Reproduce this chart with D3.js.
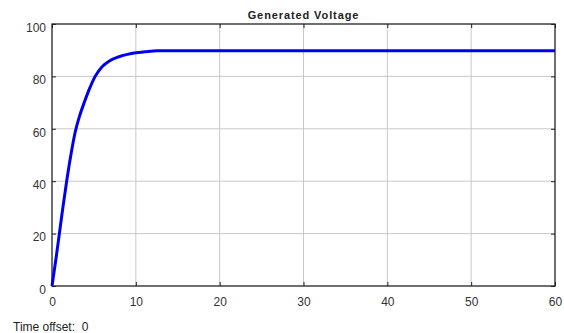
<!DOCTYPE html>
<html>
<head>
<meta charset="utf-8">
<script src="https://cdn.jsdelivr.net/npm/d3@7"></script>
<style>
  body { margin: 0; background: #fff; }
  text { font-family: "Liberation Sans", Arial, sans-serif; }
</style>
</head>
<body>
<svg id="chart" width="564" height="333"></svg>
<script>
const timeValues = [0, 0.5, 0.9, 1.3, 1.75, 2.25, 2.75, 3.3, 3.9, 4.5, 5.15, 6, 6.8, 7.9, 9, 10, 11.1, 12.5, 60];
const voltageValues = [0, 11, 20.5, 30, 40, 50, 58.5, 65, 70.5, 75.5, 80, 83.8, 85.8, 87.4, 88.4, 89, 89.4, 89.8, 89.8];
const xTicks = [0, 10, 20, 30, 40, 50, 60];
const yTicks = [0, 20, 40, 60, 80, 100];
const title = 'Generated Voltage';
const footer = 'Time offset:  0';

const svg = d3.select('#chart');
const margin = { top: 24, right: 9, bottom: 47, left: 52 };
const width = 564, height = 333;

const x = d3.scaleLinear().domain([0, 60]).range([margin.left, width - margin.right]);
const y = d3.scaleLinear().domain([0, 100]).range([height - margin.bottom, margin.top]);

const data = timeValues.map((t, i) => ({ t, v: voltageValues[i] }));

// grid
svg.append('g')
  .selectAll('line')
  .data(xTicks.slice(1, -1))
  .join('line')
  .attr('x1', d => x(d)).attr('x2', d => x(d))
  .attr('y1', y(100)).attr('y2', y(0))
  .attr('stroke', '#c8c8c8').attr('stroke-width', 1);

svg.append('g')
  .selectAll('line')
  .data(yTicks.slice(1, -1))
  .join('line')
  .attr('x1', x(0)).attr('x2', x(60))
  .attr('y1', d => y(d)).attr('y2', d => y(d))
  .attr('stroke', '#c8c8c8').attr('stroke-width', 1);

// axes, ticks pointing inward on all sides
const styleAxis = g => {
  g.select('.domain').remove();
  g.selectAll('line').attr('stroke', '#222');
  g.selectAll('text').style('font-size', '12px').attr('fill', '#333');
};

svg.append('g')
  .attr('transform', `translate(0,${y(0)})`)
  .call(d3.axisBottom(x).tickValues(xTicks).tickSizeInner(-4).tickSizeOuter(0).tickPadding(11))
  .call(styleAxis);

svg.append('g')
  .attr('transform', `translate(${x(0)},0)`)
  .call(d3.axisLeft(y).tickValues(yTicks).tickSizeInner(-4).tickSizeOuter(0).tickPadding(6))
  .call(styleAxis)
  .selectAll('text').attr('dy', '0.6em');

svg.append('g')
  .attr('transform', `translate(0,${y(100)})`)
  .call(d3.axisTop(x).tickValues(xTicks).tickSizeInner(-4).tickSizeOuter(0).tickFormat(''))
  .call(styleAxis);

svg.append('g')
  .attr('transform', `translate(${x(60)},0)`)
  .call(d3.axisRight(y).tickValues(yTicks).tickSizeInner(-4).tickSizeOuter(0).tickFormat(''))
  .call(styleAxis);

// frame
svg.append('rect')
  .attr('x', x(0)).attr('y', y(100))
  .attr('width', x(60) - x(0)).attr('height', y(0) - y(100))
  .attr('fill', 'none').attr('stroke', '#222').attr('stroke-width', 1.3);

// curve
svg.append('path')
  .datum(data)
  .attr('fill', 'none')
  .attr('stroke', '#0000f0')
  .attr('stroke-width', 3)
  .attr('stroke-linejoin', 'round')
  .attr('d', d3.line().x(d => x(d.t)).y(d => y(d.v)).curve(d3.curveMonotoneX));

svg.append('text')
  .attr('x', (x(0) + x(60)) / 2)
  .attr('y', 19)
  .attr('text-anchor', 'middle')
  .style('font-size', '11px')
  .style('font-weight', 'bold')
  .style('letter-spacing', '0.9px')
  .attr('fill', '#222')
  .text(title);

svg.append('text')
  .attr('x', 13)
  .attr('y', 331)
  .style('font-size', '12px')
  .style('white-space', 'pre')
  .attr('fill', '#222')
  .text(footer);
</script>
</body>
</html>
